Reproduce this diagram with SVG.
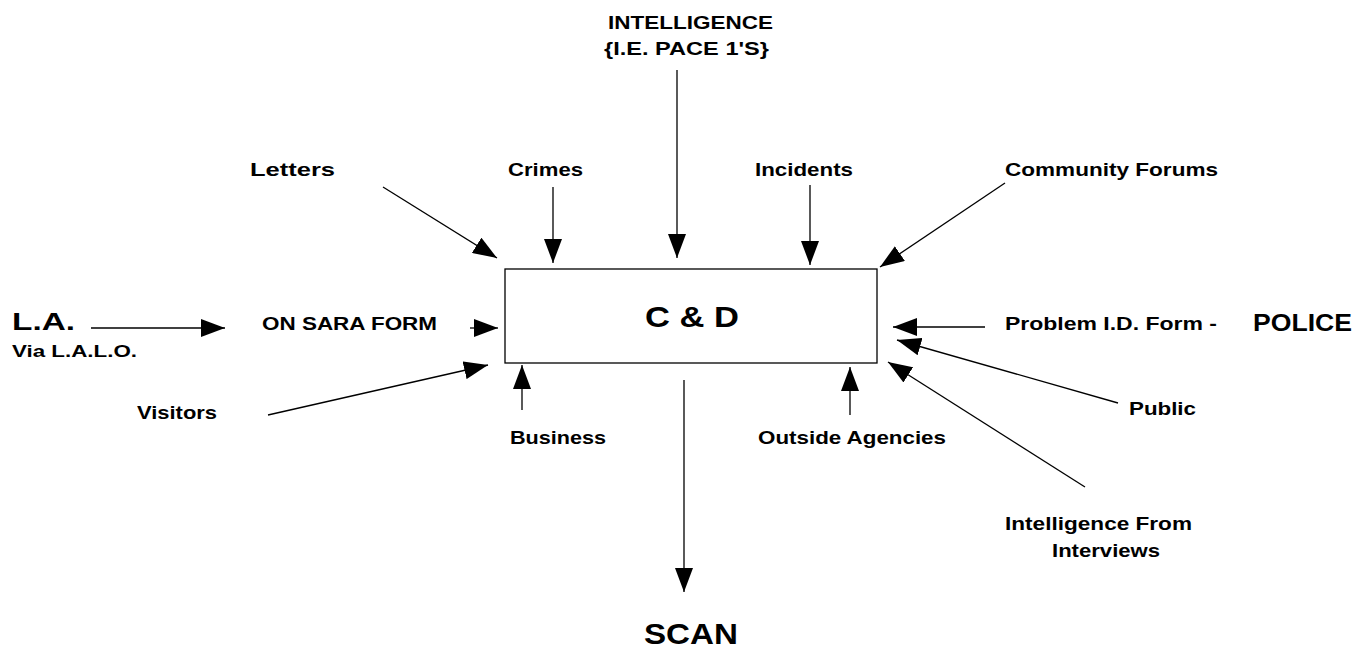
<svg xmlns="http://www.w3.org/2000/svg" width="1354" height="652" viewBox="0 0 1354 652">
<style>
text{font-family:"Liberation Sans",Arial,sans-serif;font-weight:bold;fill:#000}
.l{font-size:19px}
.big{font-size:24px}
.huge{font-size:30px}
.edge{stroke:#000;stroke-width:1.3;fill:none;marker-end:url(#ah)}
.box{fill:#fff;stroke:#000;stroke-width:1.3}
</style>
<defs>
<marker id="ah" markerUnits="userSpaceOnUse" markerWidth="24" markerHeight="18" refX="24" refY="9" orient="auto">
<path d="M0,0 L24,9 L0,18 z" fill="#000"/>
</marker>
</defs>
<rect width="1354" height="652" fill="#fff"/>
<g id="connectors">
<line class="edge" x1="383" y1="187" x2="497" y2="258"/>
<line class="edge" x1="553" y1="187" x2="553" y2="263"/>
<line class="edge" x1="677" y1="70" x2="677" y2="258"/>
<line class="edge" x1="810" y1="185" x2="810" y2="265"/>
<line class="edge" x1="1005" y1="183" x2="880" y2="267"/>
<line class="edge" x1="91" y1="328" x2="225" y2="328"/>
<line class="edge" x1="470" y1="328" x2="498" y2="328"/>
<line class="edge" x1="268" y1="415" x2="488" y2="365"/>
<line class="edge" x1="522" y1="410" x2="522" y2="365"/>
<line class="edge" x1="850" y1="415" x2="850" y2="367"/>
<line class="edge" x1="985" y1="327" x2="893" y2="327"/>
<line class="edge" x1="1118" y1="403" x2="897" y2="340"/>
<line class="edge" x1="1085" y1="487" x2="888" y2="362"/>
<line class="edge" x1="684" y1="380" x2="684" y2="592"/>
</g>
<g id="cd">
<rect class="box" x="505" y="269" width="372" height="94"/>
<text class="huge" x="645" y="327" textLength="94" lengthAdjust="spacingAndGlyphs">C &amp; D</text>
</g>
<g id="intelligence">
<text class="l" x="608" y="29" textLength="165" lengthAdjust="spacingAndGlyphs">INTELLIGENCE</text>
<text class="l" x="604" y="55" textLength="165" lengthAdjust="spacingAndGlyphs">{I.E. PACE 1'S}</text>
</g>
<g id="letters"><text class="l" x="250" y="176" textLength="85" lengthAdjust="spacingAndGlyphs">Letters</text></g>
<g id="crimes"><text class="l" x="508" y="176" textLength="75" lengthAdjust="spacingAndGlyphs">Crimes</text></g>
<g id="incidents"><text class="l" x="755" y="176" textLength="98" lengthAdjust="spacingAndGlyphs">Incidents</text></g>
<g id="community"><text class="l" x="1005" y="176" textLength="213" lengthAdjust="spacingAndGlyphs">Community Forums</text></g>
<g id="la">
<text class="big" x="12" y="330" textLength="63" lengthAdjust="spacingAndGlyphs">L.A.</text>
<text class="l" x="12" y="357" textLength="125" lengthAdjust="spacingAndGlyphs" style="font-size:17px">Via L.A.L.O.</text>
</g>
<g id="sara"><text class="l" x="262" y="330" textLength="175" lengthAdjust="spacingAndGlyphs">ON SARA FORM</text></g>
<g id="problem"><text class="l" x="1005" y="330" textLength="212" lengthAdjust="spacingAndGlyphs">Problem I.D. Form -</text></g>
<g id="police"><text class="big" x="1253" y="331" textLength="99" lengthAdjust="spacingAndGlyphs">POLICE</text></g>
<g id="visitors"><text class="l" x="137" y="419" textLength="80" lengthAdjust="spacingAndGlyphs">Visitors</text></g>
<g id="business"><text class="l" x="510" y="444" textLength="96" lengthAdjust="spacingAndGlyphs">Business</text></g>
<g id="outside"><text class="l" x="758" y="444" textLength="188" lengthAdjust="spacingAndGlyphs">Outside Agencies</text></g>
<g id="public"><text class="l" x="1129" y="415" textLength="67" lengthAdjust="spacingAndGlyphs">Public</text></g>
<g id="interviews">
<text class="l" x="1005" y="530" textLength="187" lengthAdjust="spacingAndGlyphs">Intelligence From</text>
<text class="l" x="1052" y="557" textLength="108" lengthAdjust="spacingAndGlyphs">Interviews</text>
</g>
<g id="scan"><text class="huge" x="644" y="644" textLength="94" lengthAdjust="spacingAndGlyphs">SCAN</text></g>
</svg>
